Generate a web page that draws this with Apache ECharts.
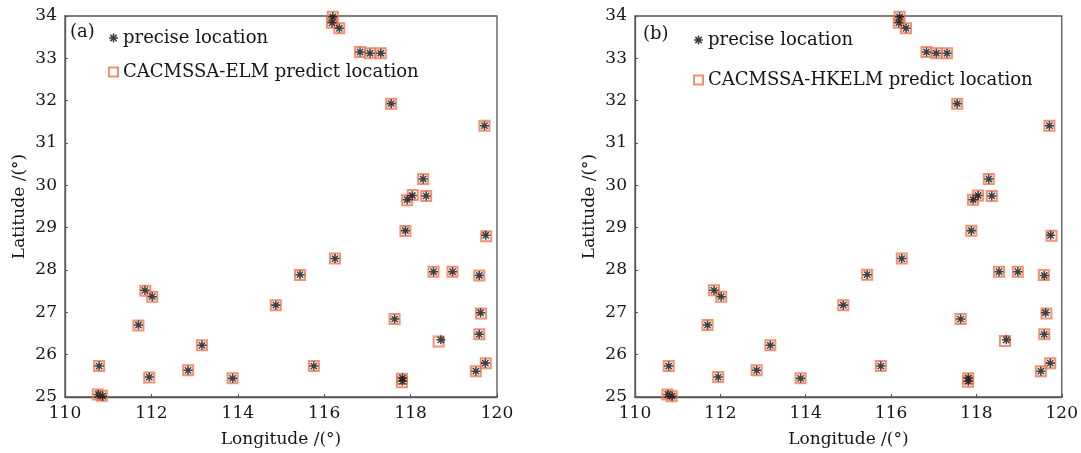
<!DOCTYPE html>
<html>
<head>
<meta charset="utf-8">
<title>precise / predict location</title>
<script src="https://cdn.jsdelivr.net/npm/echarts@6/dist/echarts.min.js"></script>
<style>
html,body{margin:0;padding:0;background:#fff;}
#main{width:1081px;height:453px;}
</style>
</head>
<body>
<div id="main"></div>
<script>
//精确位置（经度、纬度）
var precLon = [110.79,110.77,110.87,111.70,111.85,112.02,111.95,112.85,113.17,113.88,
	114.88,115.44,115.76,116.25,117.63,117.88,117.81,117.81,118.53,118.70,
	118.97,119.59,119.62,119.59,119.73,119.51,119.74,119.71,118.29,118.04,
	117.92,118.36,117.55,116.20,116.18,116.35,116.83,117.06,117.31];
var precLat = [25.73,25.06,25.02,26.70,27.52,27.37,25.47,25.63,26.22,25.44,
	27.17,27.89,25.73,28.27,26.84,28.93,25.45,25.37,27.96,26.35,
	27.96,27.87,26.99,26.48,25.80,25.61,28.82,31.41,30.15,29.76,
	29.66,29.75,31.93,33.98,33.84,33.71,33.15,33.12,33.12];
//CACMSSA-ELM 预测位置
var elmLon = [110.79,110.76,110.85,111.70,111.86,112.02,111.95,112.85,113.17,113.88,
	114.88,115.44,115.76,116.25,117.63,117.88,117.80,117.80,118.53,118.65,
	118.97,119.59,119.63,119.59,119.74,119.51,119.75,119.71,118.29,118.05,
	117.92,118.36,117.55,116.20,116.18,116.35,116.83,117.06,117.31];
var elmLat = [25.73,25.06,25.03,26.69,27.51,27.37,25.46,25.63,26.22,25.44,
	27.17,27.88,25.73,28.27,26.84,28.92,25.43,25.35,27.96,26.31,
	27.96,27.87,26.97,26.48,25.80,25.61,28.80,31.41,30.15,29.77,
	29.65,29.75,31.93,33.98,33.84,33.71,33.15,33.12,33.12];
//CACMSSA-HKELM 预测位置
var hkelmLon = [110.79,110.76,110.86,111.70,111.85,112.02,111.95,112.85,113.17,113.88,
	114.88,115.44,115.76,116.25,117.63,117.88,117.81,117.80,118.53,118.67,
	118.97,119.58,119.64,119.59,119.73,119.51,119.76,119.71,118.29,118.04,
	117.92,118.36,117.55,116.20,116.18,116.35,116.83,117.06,117.31];
var hkelmLat = [25.73,25.06,25.02,26.70,27.52,27.37,25.47,25.63,26.22,25.44,
	27.17,27.89,25.73,28.27,26.84,28.93,25.44,25.36,27.96,26.32,
	27.96,27.88,26.97,26.48,25.80,25.61,28.81,31.41,30.15,29.76,
	29.66,29.75,31.93,33.98,33.84,33.71,33.15,33.12,33.12];
//坐标轴范围
var lonRange = [110, 120, 2];
var latRange = [25, 34, 1];
var legendNames = ['precise location', 'CACMSSA-ELM predict location', 'CACMSSA-HKELM predict location'];

var serifFont = '"DejaVu Serif", "Liberation Serif", serif';
var textColor = '#151515';
var starColor = '#111';
var squareColor = '#ef7550';
//星号符号（四条交叉的细条）
var starPath = 'path://M-1,-0.17L1,-0.17L1,0.17L-1,0.17Z' +
	'M-0.17,-1L0.17,-1L0.17,1L-0.17,1Z' +
	'M-0.58,-0.82L0.82,0.58L0.58,0.82L-0.82,-0.58Z' +
	'M0.82,-0.58L-0.58,0.82L-0.82,0.58L0.58,-0.82Z';

function toPairs(lon, lat){
	var arr = [];
	for (var i = 0; i < lon.length; i++){
		arr.push([lon[i], lat[i]]);
	}
	return arr;
}

function makeXAxis(idx){
	return {
		gridIndex: idx,
		type: 'value',
		min: lonRange[0],
		max: lonRange[1],
		interval: lonRange[2],
		name: 'Longitude /(°)',
		nameLocation: 'middle',
		nameGap: 34,
		nameTextStyle: {fontFamily: serifFont, fontSize: 17, color: textColor},
		axisLine: {show: true, lineStyle: {color: '#555', width: 1.3}},
		axisTick: {show: true, inside: true, length: 3, lineStyle: {color: '#555'}},
		axisLabel: {fontFamily: serifFont, fontSize: 17, color: textColor, margin: 8},
		splitLine: {show: false}
	};
}
function makeYAxis(idx){
	return {
		gridIndex: idx,
		type: 'value',
		min: latRange[0],
		max: latRange[1],
		interval: latRange[2],
		name: 'Latitude /(°)',
		nameLocation: 'middle',
		nameGap: 37,
		nameTextStyle: {fontFamily: serifFont, fontSize: 17, color: textColor},
		axisLine: {show: true, lineStyle: {color: '#555', width: 1.3}},
		axisTick: {show: true, inside: true, length: 3, lineStyle: {color: '#555'}},
		axisLabel: {fontFamily: serifFont, fontSize: 17, color: textColor, margin: 8},
		splitLine: {show: false}
	};
}
function makeLegend(predName, left, top, gap){
	return {
		left: left,
		top: top,
		orient: 'vertical',
		itemWidth: 9,
		itemHeight: 9,
		itemGap: gap,
		selectedMode: false,
		textStyle: {fontFamily: serifFont, fontSize: 18, color: textColor, lineHeight: 20},
		data: [legendNames[0], predName]
	};
}
function squareSeries(name, idx, data){
	return {
		name: name,
		type: 'scatter',
		xAxisIndex: idx,
		yAxisIndex: idx,
		symbol: 'rect',
		symbolSize: 10,
		silent: true,
		itemStyle: {color: 'rgba(255,255,255,0)', borderColor: squareColor, borderWidth: 2},
		data: data
	};
}
function starSeries(idx, data){
	return {
		name: legendNames[0],
		type: 'scatter',
		xAxisIndex: idx,
		yAxisIndex: idx,
		symbol: starPath,
		symbolSize: 9,
		silent: true,
		itemStyle: {color: starColor},
		data: data
	};
}

var chart = echarts.init(document.getElementById('main'));
var option = {
	animation: false,
	backgroundColor: '#fff',
	grid: [
		{left: 65, top: 16, width: 432, height: 385, show: true, borderColor: '#555', borderWidth: 1.3, backgroundColor: 'transparent'},
		{left: 635, top: 16, width: 433, height: 385, show: true, borderColor: '#555', borderWidth: 1.3, backgroundColor: 'transparent'}
	],
	xAxis: [makeXAxis(0), makeXAxis(1)],
	yAxis: [makeYAxis(0), makeYAxis(1)],
	legend: [
		makeLegend(legendNames[1], 103, 23, 14),
		makeLegend(legendNames[2], 688, 25, 20)
	],
	graphic: [
		{type: 'text', left: 70, top: 23, style: {text: '(a)', font: '18px ' + serifFont, fill: textColor}},
		{type: 'text', left: 643, top: 25, style: {text: '(b)', font: '18px ' + serifFont, fill: textColor}}
	],
	series: [
		squareSeries(legendNames[1], 0, toPairs(elmLon, elmLat)),
		starSeries(0, toPairs(precLon, precLat)),
		squareSeries(legendNames[2], 1, toPairs(hkelmLon, hkelmLat)),
		starSeries(1, toPairs(precLon, precLat))
	]
};
chart.setOption(option);
</script>
</body>
</html>
